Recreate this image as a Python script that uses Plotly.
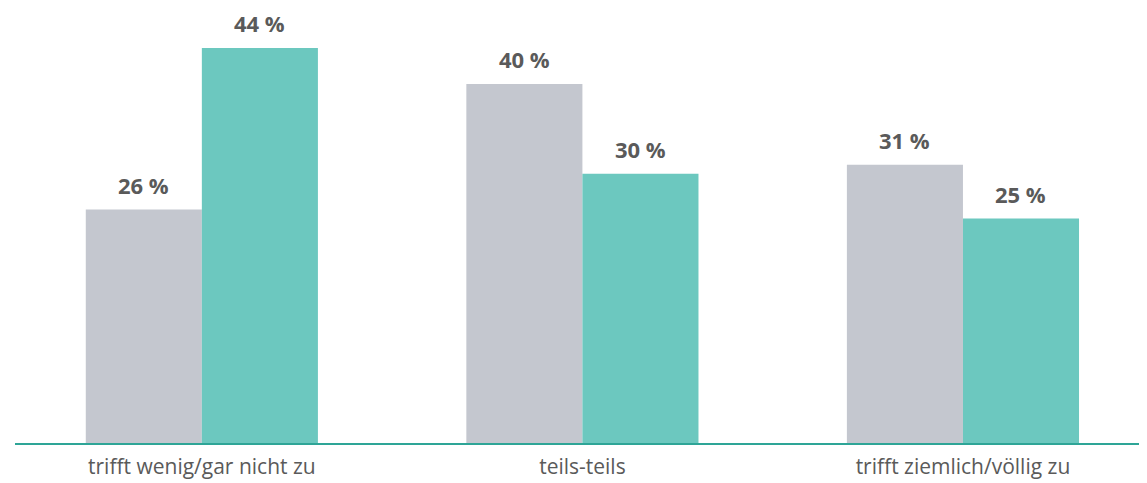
import plotly.graph_objects as go

categories = ["trifft wenig/gar nicht zu", "teils-teils", "trifft ziemlich/völlig zu"]
series_grey = [26, 40, 31]
series_teal = [44, 30, 25]
labels_grey = ["26 %", "40 %", "31 %"]
labels_teal = ["44 %", "30 %", "25 %"]

GREY = "#c4c7cf"
TEAL = "#6cc8bf"
LINE = "#2ea597"
TEXT = "#5a5a5a"
FONT = "Open Sans"

fig = go.Figure()
fig.add_trace(go.Bar(x=categories, y=series_grey, marker_color=GREY, marker_line_width=0,
                     name="grey", showlegend=False))
fig.add_trace(go.Bar(x=categories, y=series_teal, marker_color=TEAL, marker_line_width=0,
                     name="teal", showlegend=False))

for cat, v, lab in zip(categories, series_grey, labels_grey):
    fig.add_annotation(x=cat, y=v, text=lab, showarrow=False, xref="x", yref="y",
                       xshift=-58, yshift=8, yanchor="bottom",
                       font=dict(family=FONT, size=22, color=TEXT, weight="bold"))
for cat, v, lab in zip(categories, series_teal, labels_teal):
    fig.add_annotation(x=cat, y=v, text=lab, showarrow=False, xref="x", yref="y",
                       xshift=58, yshift=8, yanchor="bottom",
                       font=dict(family=FONT, size=22, color=TEXT, weight="bold"))

fig.update_layout(
    width=1139, height=475,
    margin=dict(l=7, r=0, t=2, b=40),
    barmode="group", bargap=0.39, bargroupgap=0,
    plot_bgcolor="white", paper_bgcolor="white",
    font=dict(family=FONT, color=TEXT),
)
fig.update_xaxes(range=[-0.491, 2.4836], showline=True, linecolor=LINE, linewidth=1.5,
                 showgrid=False, ticks="", ticklabelstandoff=4,
                 tickfont=dict(family=FONT, size=21, color=TEXT))
fig.update_yaxes(range=[0, 48.23], visible=False, showgrid=False)

fig.write_html("out.html")
